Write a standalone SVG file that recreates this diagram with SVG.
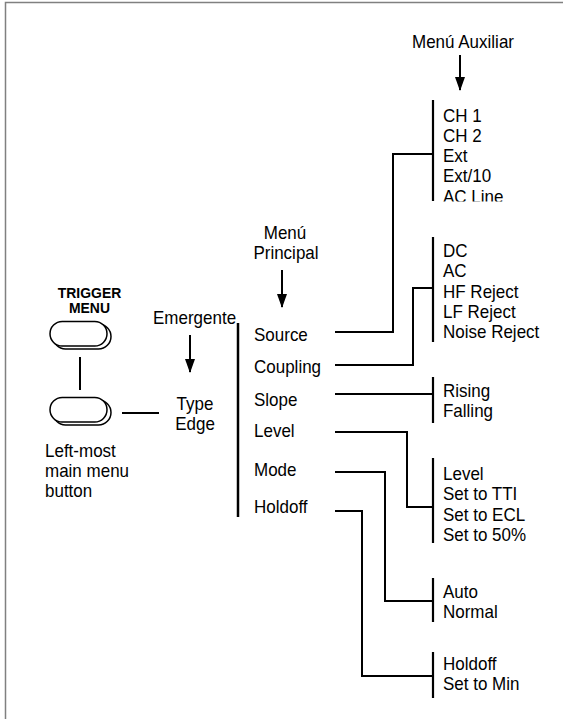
<svg xmlns="http://www.w3.org/2000/svg" width="563" height="719" viewBox="0 0 563 719">
<style>
  text { font-family: "Liberation Sans", Arial, sans-serif; font-size: 18px; fill: #000;
         transform-box: fill-box; transform-origin: 0 0; transform: scaleX(0.944); }
  .b { font-weight: bold; font-size: 15px; transform: scaleX(0.93); }
  .m { text-anchor: middle; transform-origin: 50% 0; }
  .ln { stroke: #000; stroke-width: 2; fill: none; }
  .br { stroke: #000; stroke-width: 2.2; fill: none; }
  .frame { stroke: #808080; stroke-width: 1.5; fill: none; }
  .btn { stroke: #000; stroke-width: 1.5; fill: #fff; }
</style>
<defs>
  <marker id="ah" markerUnits="userSpaceOnUse" markerWidth="14" markerHeight="10" refX="13" refY="5" orient="auto" viewBox="0 0 14 10">
    <path d="M0,0 L14,5 L0,10 Z" fill="#000"/>
  </marker>
  <clipPath id="clipAux"><rect x="435" y="95" width="120" height="106.5"/></clipPath>
</defs>

<path class="frame" d="M5.5,719 V2.5 H563"/>

<g id="trigger-menu">
  <text class="b m" x="89.5" y="298">TRIGGER</text>
  <text class="b m" x="89.5" y="313">MENU</text>
  <rect class="btn" x="53" y="324" width="58" height="25" rx="12.5"/>
  <rect class="btn" x="50" y="321.5" width="57" height="24.5" rx="12.25"/>
</g>

<g id="leftmost-button">
  <rect class="btn" x="53" y="400" width="58" height="25" rx="12.5"/>
  <rect class="btn" x="50" y="397.5" width="57" height="24.5" rx="12.25"/>
  <text x="45" y="457">Left-most</text>
  <text x="45" y="477">main menu</text>
  <text x="45" y="497">button</text>
</g>

<g id="emergente">
  <text x="153" y="324">Emergente</text>
  <text class="m" x="195" y="410">Type</text>
  <text class="m" x="195" y="430">Edge</text>
</g>

<g id="menu-principal">
  <text class="m" x="285" y="239">Menú</text>
  <text class="m" x="286" y="259">Principal</text>
  <path class="br" d="M238,323 V517" style="stroke-width:2.5"/>
  <text x="254" y="341">Source</text>
  <text x="254" y="373">Coupling</text>
  <text x="254" y="406">Slope</text>
  <text x="254" y="437">Level</text>
  <text x="254" y="476">Mode</text>
  <text x="254" y="513">Holdoff</text>
</g>

<g id="menu-auxiliar">
  <text class="m" x="463" y="48">Menú Auxiliar</text>
</g>

<g id="source-options">
  <path class="br" d="M433,100 V201"/>
  <g clip-path="url(#clipAux)">
    <text x="443" y="122">CH 1</text>
    <text x="443" y="142">CH 2</text>
    <text x="443" y="162">Ext</text>
    <text x="443" y="182">Ext/10</text>
    <text x="443" y="203">AC Line</text>
  </g>
</g>

<g id="coupling-options">
  <path class="br" d="M433,237 V342"/>
  <text x="443" y="257">DC</text>
  <text x="443" y="277">AC</text>
  <text x="443" y="298">HF Reject</text>
  <text x="443" y="318">LF Reject</text>
  <text x="443" y="338">Noise Reject</text>
</g>

<g id="slope-options">
  <path class="br" d="M433,377 V423"/>
  <text x="443" y="397">Rising</text>
  <text x="443" y="417">Falling</text>
</g>

<g id="level-options">
  <path class="br" d="M433,458 V543"/>
  <text x="443" y="480">Level</text>
  <text x="443" y="500">Set to TTI</text>
  <text x="443" y="521">Set to ECL</text>
  <text x="443" y="541">Set to 50%</text>
</g>

<g id="mode-options">
  <path class="br" d="M433,578 V622"/>
  <text x="443" y="598">Auto</text>
  <text x="443" y="618">Normal</text>
</g>

<g id="holdoff-options">
  <path class="br" d="M433,652 V698"/>
  <text x="443" y="670">Holdoff</text>
  <text x="443" y="690">Set to Min</text>
</g>

<g id="connectors">
  <path class="ln" d="M460,55 V90" marker-end="url(#ah)"/>
  <path class="ln" d="M282,270 V307" marker-end="url(#ah)"/>
  <path class="ln" d="M190,335 V372" marker-end="url(#ah)"/>
  <path class="ln" d="M80,357 V390"/>
  <path class="ln" d="M122,413 H159"/>
  <path class="ln" d="M335,332 H393 V154 H433"/>
  <path class="ln" d="M335,365 H413 V288 H433"/>
  <path class="ln" d="M335,394 H433"/>
  <path class="ln" d="M335,432 H407 V507 H433"/>
  <path class="ln" d="M335,472 H385 V601 H433"/>
  <path class="ln" d="M335,511 H362 V676 H433"/>
</g>
</svg>
